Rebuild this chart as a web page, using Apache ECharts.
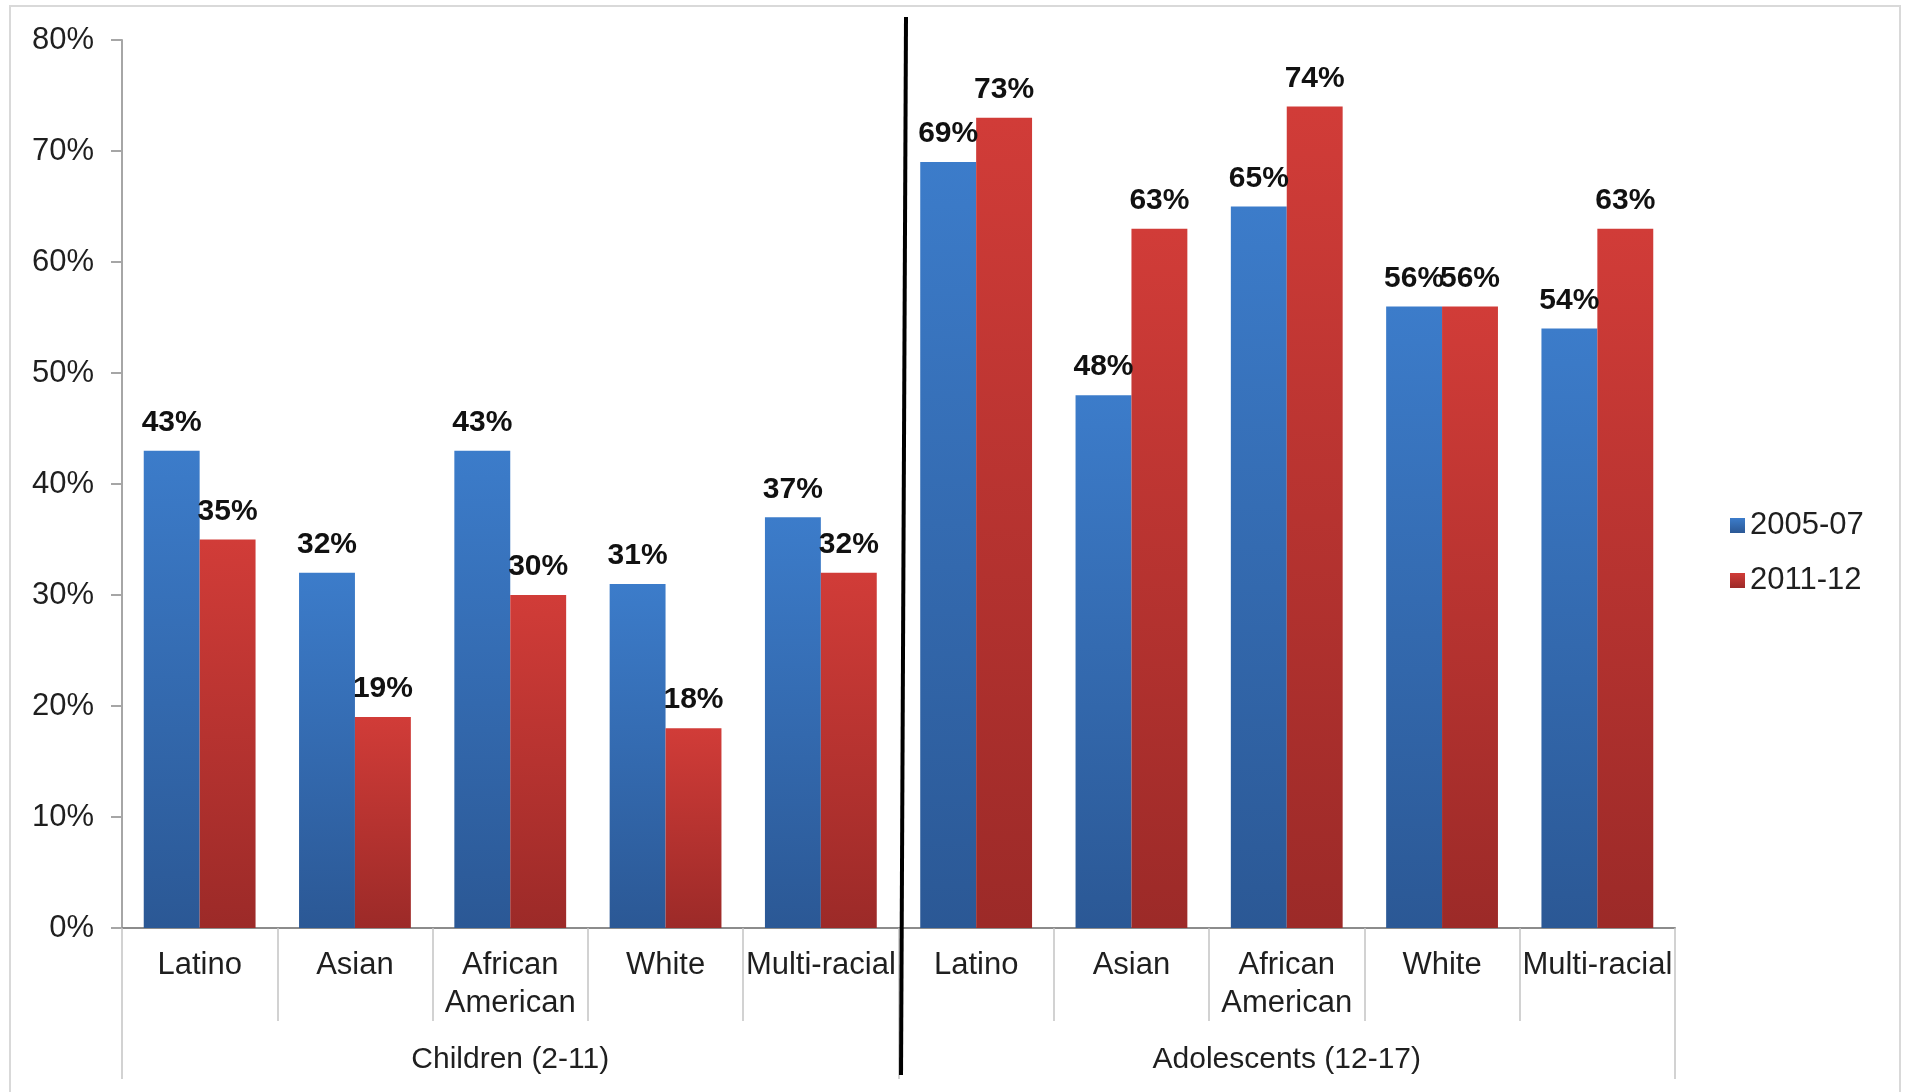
<!DOCTYPE html>
<html>
<head>
<meta charset="utf-8">
<style>
  html, body { margin: 0; padding: 0; background: #fff; }
  #chart { width: 1906px; height: 1092px; }
</style>
<script src="https://cdn.jsdelivr.net/npm/echarts@6/dist/echarts.min.js"></script>
</head>
<body>
<div id="chart"></div>
<script>
// categories, two age groups of five each
var categories = ['Latino', 'Asian', 'African\nAmerican', 'White', 'Multi-racial',
                  'Latino', 'Asian', 'African\nAmerican', 'White', 'Multi-racial'];
var groups = ['Children (2-11)', 'Adolescents (12-17)'];
var yTicks = [0, 10, 20, 30, 40, 50, 60, 70, 80];

// percent values
var s2005 = [43, 32, 43, 31, 37, 69, 48, 65, 56, 54];
var s2011 = [35, 19, 30, 18, 32, 73, 63, 74, 56, 63];

var FONT = '"Liberation Sans", Arial, sans-serif';
var TXT = '#1f1f1f';

function grad(top, bottom) {
  return new echarts.graphic.LinearGradient(0, 0, 0, 1, [
    { offset: 0, color: top },
    { offset: 1, color: bottom }
  ]);
}

var labelOpt = {
  show: true,
  position: 'top',
  distance: 13,
  formatter: '{c}%',
  fontFamily: FONT,
  fontSize: 30,
  fontWeight: 'bold',
  color: '#111'
};

var myChart = echarts.init(document.getElementById('chart'));
var option = {
  animation: false,
  textStyle: { fontFamily: FONT },
  grid: { left: 122, right: 231, top: 40, bottom: 164, containLabel: false },
  legend: {
    orient: 'vertical',
    left: 1725,
    top: 505,
    itemWidth: 15,
    itemHeight: 15,
    itemGap: 24,
    icon: 'rect',
    textStyle: { fontFamily: FONT, fontSize: 31, color: TXT },
    data: ['2005-07', '2011-12']
  },
  xAxis: [
    {
      type: 'category',
      position: 'bottom',
      data: categories,
      axisLine: { lineStyle: { color: '#8c8c8c', width: 2 } },
      axisTick: { show: true, interval: 0, length: 93, lineStyle: { color: '#c4c4c4', width: 1.5 } },
      axisLabel: {
        interval: 0,
        margin: 18,
        fontFamily: FONT,
        fontSize: 31,
        lineHeight: 38,
        color: TXT
      }
    },
    {
      type: 'category',
      position: 'bottom',
      offset: 0,
      data: groups,
      axisLine: { show: false },
      axisTick: { show: true, interval: 0, length: 151, lineStyle: { color: '#c4c4c4', width: 1.5 } },
      axisLabel: {
        interval: 0,
        margin: 113,
        fontFamily: FONT,
        fontSize: 30,
        lineHeight: 38,
        color: TXT
      }
    }
  ],
  yAxis: {
    type: 'value',
    min: yTicks[0],
    max: yTicks[yTicks.length - 1],
    interval: 10,
    splitLine: { show: false },
    axisLine: { show: true, lineStyle: { color: '#a6a6a6', width: 2 } },
    axisTick: { show: true, inside: false, length: 11, lineStyle: { color: '#a6a6a6', width: 2 } },
    axisLabel: {
      margin: 28,
      formatter: '{value}%',
      fontFamily: FONT,
      fontSize: 31,
      color: TXT
    }
  },
  series: [
    {
      name: '2005-07',
      type: 'bar',
      xAxisIndex: 0,
      barGap: '0%',
      barCategoryGap: '28%',
      data: s2005,
      itemStyle: { color: grad('#3c7cca', '#2b5895') },
      label: labelOpt
    },
    {
      name: '2011-12',
      type: 'bar',
      xAxisIndex: 0,
      data: s2011,
      itemStyle: { color: grad('#d13c38', '#9c2a28') },
      label: labelOpt
    }
  ],
  graphic: [
    {
      type: 'rect',
      shape: { x: 10, y: 6, width: 1890, height: 1100 },
      style: { fill: 'none', stroke: '#d9d9d9', lineWidth: 2 },
      silent: true
    },
    {
      type: 'line',
      shape: { x1: 906, y1: 17, x2: 901, y2: 1075 },
      style: { stroke: '#000', lineWidth: 4 },
      z: 100,
      silent: true
    }
  ],
  color: ['#3c7cca', '#d13c38']
};
myChart.setOption(option);
</script>
</body>
</html>
